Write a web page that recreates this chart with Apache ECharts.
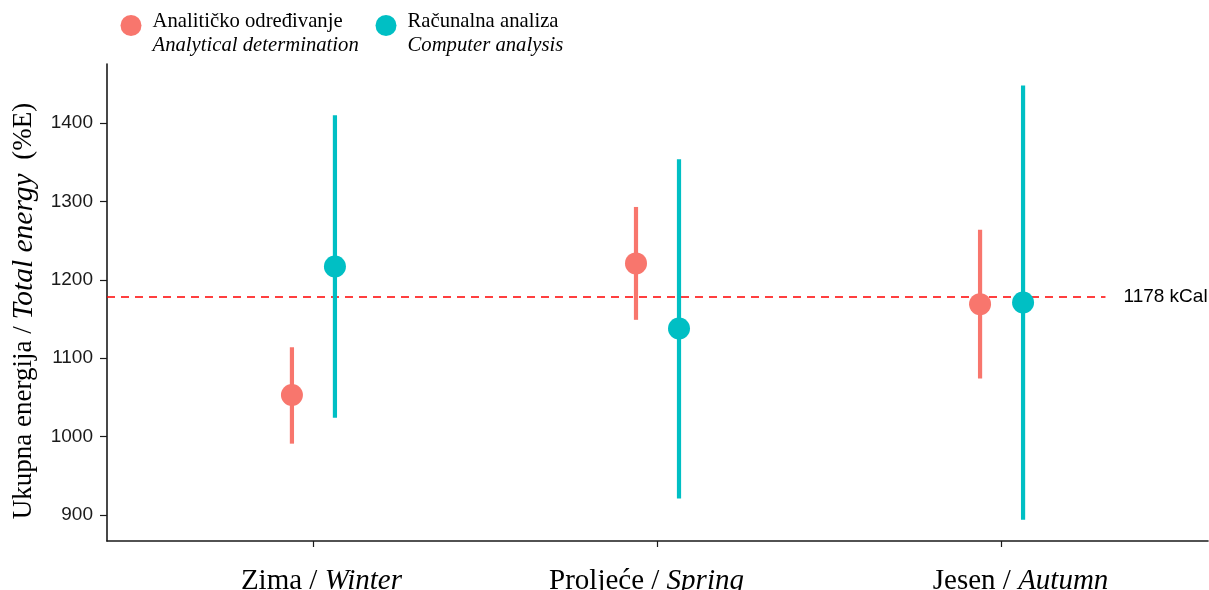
<!DOCTYPE html>
<html><head><meta charset="utf-8">
<script src="https://cdn.jsdelivr.net/npm/echarts@6/dist/echarts.min.js"></script>
<style>html,body{margin:0;padding:0;background:#fff}#c{width:1209px;height:590px}</style>
</head><body><div id="c"></div>
<script>
// ---- data ----
const categoriesLocal = ['Zima', 'Proljeće', 'Jesen'];
const categoriesEn = ['Winter', 'Spring', 'Autumn'];
const analyticalMean = [1053, 1221, 1169];
const analyticalLow = [991, 1149, 1074];
const analyticalHigh = [1114, 1293, 1264];
const computerMean = [1217, 1138, 1171];
const computerLow = [1024, 921, 894];
const computerHigh = [1410, 1354, 1448];
const yTicks = [900, 1000, 1100, 1200, 1300, 1400];
const referenceValue = 1178;
const referenceLabel = '1178 kCal';
const seriesLocal = ['Analitičko određivanje', 'Računalna analiza'];
const seriesEn = ['Analytical determination', 'Computer analysis'];
const yTitleParts = ['Ukupna energija / ', 'Total energy', '  (%E)'];

// ---- styles ----
const RED = '#F8766D', TEAL = '#00BFC4';
const SERIF = '"Liberation Serif", "Times New Roman", serif';
const SANS = '"Liberation Sans", Arial, sans-serif';
const DODGE = 0.0625;
const labelShift = [8, -11, 19]; // horizontal nudge of category labels (px)

function makeSeries(name, color, offset, mean, low, high, z) {
  return [
    {
      type: 'custom', name, z, silent: true,
      renderItem: (params, api) => {
        const p1 = api.coord([api.value(0), api.value(1)]);
        const p2 = api.coord([api.value(0), api.value(2)]);
        return { type: 'line', shape: { x1: p1[0], y1: p1[1], x2: p2[0], y2: p2[1] },
                 style: { stroke: color, lineWidth: 4.2, lineCap: 'butt' } };
      },
      data: low.map((l, i) => [i + offset, l, high[i]])
    },
    {
      type: 'scatter', name, z: z + 1, silent: true,
      symbolSize: 22,
      itemStyle: { color, opacity: 1 },
      data: mean.map((m, i) => [i + offset, m])
    }
  ];
}

const chart = echarts.init(document.getElementById('c'), null, { renderer: 'canvas' });

const series = [
  ...makeSeries(seriesLocal[0], RED, -DODGE, analyticalMean, analyticalLow, analyticalHigh, 3),
  ...makeSeries(seriesLocal[1], TEAL, DODGE, computerMean, computerLow, computerHigh, 5)
];
series[0].markLine = {
  silent: true, symbol: 'none', z: 1,
  lineStyle: { color: '#FF0000', type: [8, 6], width: 1.5 },
  label: { show: true, position: 'end', distance: 18, formatter: referenceLabel,
           fontFamily: SANS, fontSize: 19, color: '#000' },
  data: [[{ coord: [-0.6, referenceValue] }, { coord: [2.302, referenceValue] }]]
};

const legendGraphics = [];
const legendX = [131, 386];
[RED, TEAL].forEach((col, k) => {
  legendGraphics.push({ type: 'circle', shape: { cx: legendX[k], cy: 25.5, r: 10.5 }, style: { fill: col } });
  legendGraphics.push({ type: 'text', x: legendX[k] + 21.5, y: 22,
    style: { text: seriesLocal[k], font: '20.7px ' + SERIF, fill: '#000', verticalAlign: 'middle' } });
  legendGraphics.push({ type: 'text', x: legendX[k] + 21.5, y: 46,
    style: { text: seriesEn[k], font: 'italic 20.7px ' + SERIF, fill: '#000', verticalAlign: 'middle' } });
});

const xRich = {
  a: { fontFamily: SERIF, fontSize: 29, color: '#000' },
  b: { fontFamily: SERIF, fontSize: 29, fontStyle: 'italic', color: '#000' }
};
labelShift.forEach((s, i) => { xRich['s' + i] = { width: Math.abs(s) * 2, fontSize: 29 }; });

chart.setOption({
  animation: false,
  backgroundColor: '#fff',
  grid: { left: 107, right: 1, top: 64, bottom: 49, containLabel: false, outerBoundsMode: 'none' },
  xAxis: {
    type: 'value', min: -0.6, max: 2.6,
    splitLine: { show: false },
    axisLine: { show: true, onZero: false, lineStyle: { color: '#1a1a1a', width: 1.6 } },
    axisTick: { show: true, customValues: [0, 1, 2], length: 6, lineStyle: { color: '#1a1a1a', width: 1.2 } },
    axisLabel: {
      customValues: [0, 1, 2], margin: 26,
      formatter: v => {
        const i = Math.round(v);
        const body = '{a|' + categoriesLocal[i] + ' / }{b|' + categoriesEn[i] + '}';
        const sp = '{s' + i + '|}';
        return labelShift[i] >= 0 ? sp + body : body + sp;
      },
      rich: xRich
    }
  },
  yAxis: {
    type: 'value', min: 866.8, max: 1475.4,
    splitLine: { show: false },
    axisLine: { show: true, onZero: false, lineStyle: { color: '#1a1a1a', width: 1.6 } },
    axisTick: { show: true, customValues: yTicks, length: 7, lineStyle: { color: '#1a1a1a', width: 1.2 } },
    axisLabel: { customValues: yTicks, margin: 14, fontFamily: SANS, fontSize: 19, color: '#1a1a1a',
                 formatter: v => String(Math.round(v)) }
  },
  graphic: [
    ...legendGraphics,
    {
      type: 'text', x: 24, y: 311, rotation: Math.PI / 2,
      style: {
        text: '{a|' + yTitleParts[0] + '}{b|' + yTitleParts[1] + '}{a|' + yTitleParts[2] + '}',
        align: 'center', verticalAlign: 'middle',
        rich: {
          a: { fontFamily: SERIF, fontSize: 27, fill: '#000' },
          b: { fontFamily: SERIF, fontSize: 29.5, fontStyle: 'italic', fill: '#000' }
        }
      }
    }
  ],
  series
});
</script>
</body></html>
